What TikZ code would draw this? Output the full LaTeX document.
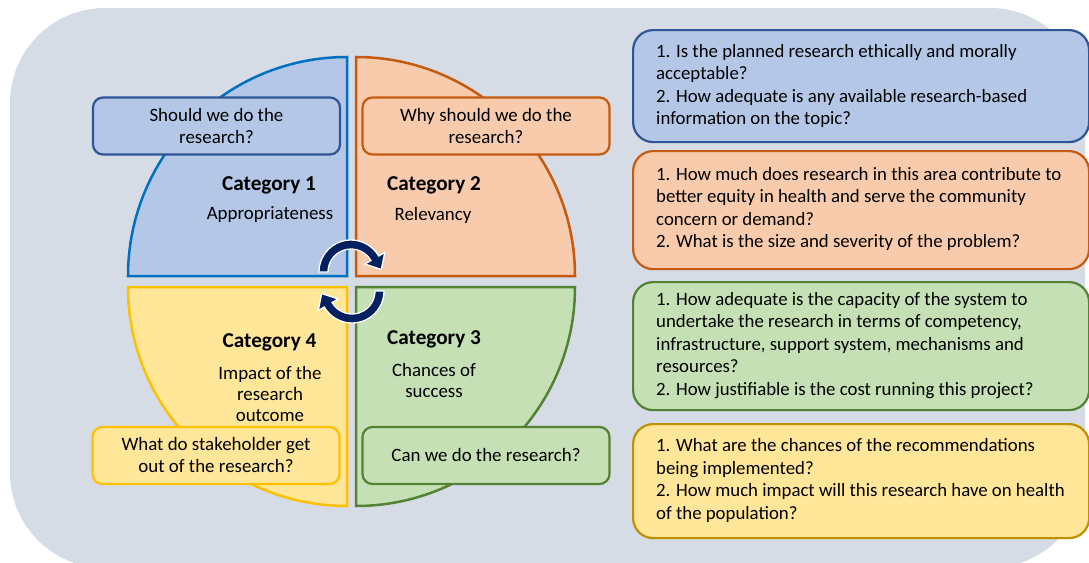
\documentclass[tikz,border=0pt]{standalone}
\usepackage{fontspec}
\setmainfont{Carlito}
\usetikzlibrary{calc}
\definecolor{bgc}{HTML}{D6DCE5}
\definecolor{blueF}{HTML}{B4C7E7}
\definecolor{blueQ}{HTML}{0070C0}
\definecolor{blueB}{HTML}{2F5597}
\definecolor{orangeF}{HTML}{F8CBAD}
\definecolor{orangeL}{HTML}{C55A11}
\definecolor{yellowF}{HTML}{FFE699}
\definecolor{yellowL}{HTML}{FFC000}
\definecolor{yellowB}{HTML}{BF9000}
\definecolor{greenF}{HTML}{C5E0B4}
\definecolor{greenL}{HTML}{548235}
\definecolor{navy}{HTML}{002060}
\begin{document}
\begin{tikzpicture}[x=1pt,y=1pt,
  quad/.style={line width=2.5pt, line join=miter},
  smallbox/.style={rounded corners=10pt, line width=2.2pt, minimum width=247pt, minimum height=57pt, align=center, inner sep=0pt, font=\fontsize{18.9}{22}\selectfont},
  bigbox/.style={rounded corners=20pt, line width=2.2pt, minimum width=456pt, anchor=north west, inner sep=0pt},
  rtext/.style={anchor=west, align=left, inner sep=0pt, font=\fontsize{18.8}{22.5}\selectfont},
  cat/.style={inner sep=0pt, font=\fontsize{21.2}{24}\selectfont\bfseries},
  sub/.style={inner sep=0pt, align=center, font=\fontsize{18.9}{21}\selectfont},
  cyc/.style={fill=navy, draw=white, line width=1.3pt, line join=miter}
]
\useasboundingbox (0,0) rectangle (1089,-562);
\clip (0,0) rectangle (1089,-562);
% background
\fill[bgc, rounded corners=95pt] (10,-8) rectangle (1085,-568);

% quadrants
\filldraw[quad, fill=blueF, draw=blueQ] (347,-276) -- (128,-276) arc[start angle=180, end angle=90, radius=219] -- cycle;
\filldraw[quad, fill=orangeF, draw=orangeL] (356,-276) -- (356,-57) arc[start angle=90, end angle=0, radius=219] -- cycle;
\filldraw[quad, fill=greenF, draw=greenL] (356,-287) -- (575,-287) arc[start angle=0, end angle=-90, radius=219] -- cycle;
\filldraw[quad, fill=yellowF, draw=yellowL] (347,-287) -- (347,-506) arc[start angle=-90, end angle=-180, radius=219] -- cycle;

% question boxes
\node[smallbox, fill=blueF, draw=blueB] (q1) at (216.5,-126) {Should we do the\\research?};
\node[smallbox, fill=orangeF, draw=orangeL] (q2) at (486,-126) {Why should we do the\\research?};
\node[smallbox, fill=yellowF, draw=yellowL] (q4) at (216,-455.5) {What do stakeholder get\\out of the research?};
\node[smallbox, fill=greenF, draw=greenL] (q3) at (486,-455.5) {Can we do the research?};

% category labels
\node[cat] (c1) at (269,-185) {Category 1};
\node[sub] (s1) at (270,-215) {Appropriateness};
\node[cat] (c2) at (434,-185) {Category 2};
\node[sub] (s2) at (433,-215) {Relevancy};
\node[cat] (c4) at (269.5,-342) {Category 4};
\node[sub] (s4) at (270,-394) {Impact of the\\research\\outcome};
\node[cat] (c3) at (434,-339) {Category 3};
\node[sub] (s3) at (434,-380.5) {Chances of\\success};

% cycle arrows
\coordinate (ca) at (351,-272);
\coordinate (cb) at (352,-291);
\filldraw[cyc] ($(ca)+(180:32)$) arc[start angle=180, end angle=30, radius=32]
  -- ($(ca)+(30:39)$) -- ($(ca)+(30:27.5)+(-60:13)$) -- ($(ca)+(30:16)$)
  -- ($(ca)+(30:23)$) arc[start angle=30, end angle=180, radius=23] -- cycle;
\filldraw[cyc] ($(cb)+(0:32)$) arc[start angle=0, end angle=-150, radius=32]
  -- ($(cb)+(-150:39)$) -- ($(cb)+(-150:27.5)+(120:13)$) -- ($(cb)+(-150:16)$)
  -- ($(cb)+(-150:23)$) arc[start angle=-150, end angle=0, radius=23] -- cycle;

% right boxes
\node[bigbox, fill=blueF, draw=blueB, minimum height=112pt] (r1) at (632,-29) {};
\node[bigbox, fill=orangeF, draw=orangeL, minimum height=118pt] (r2) at (632,-150) {};
\node[bigbox, fill=greenF, draw=greenL, minimum height=128pt] (r3) at (632,-281) {};
\node[bigbox, fill=yellowF, draw=yellowB, minimum height=114pt] (r4) at (632,-423) {};

\node[rtext] (t1) at (656,-86) {1. Is the planned research ethically and morally\\acceptable?\\2. How adequate is any available research-based\\information on the topic?};
\node[rtext] (t2) at (656,-209) {1. How much does research in this area contribute to\\better equity in health and serve the community\\concern or demand?\\2. What is the size and severity of the problem?};
\node[rtext] (t3) at (656,-345.5) {1. How adequate is the capacity of the system to\\undertake the research in terms of competency,\\infrastructure, support system, mechanisms and\\resources?\\2. How justifiable is the cost running this project?};
\node[rtext] (t4) at (656,-480.5) {1. What are the chances of the recommendations\\being implemented?\\2. How much impact will this research have on health\\of the population?};
\end{tikzpicture}
\end{document}
